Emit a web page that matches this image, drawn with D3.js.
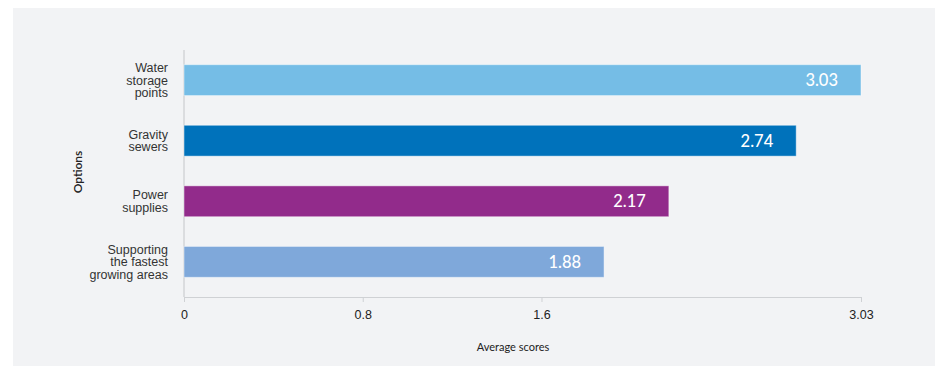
<!DOCTYPE html>
<html>
<head>
<meta charset="utf-8">
<script src="https://cdn.jsdelivr.net/npm/d3@7"></script>
<style>
  body { margin: 0; background: #fff; }
  svg { display: block; font-family: Lato, "Open Sans", sans-serif; }
</style>
</head>
<body>
<svg width="935" height="366"></svg>
<script>
// data
const categories = ['Water storage points', 'Gravity sewers', 'Power supplies', 'Supporting the fastest growing areas'];
const categoryLines = [['Water', 'storage', 'points'], ['Gravity', 'sewers'], ['Power', 'supplies'], ['Supporting', 'the fastest', 'growing areas']];
const scores = [3.03, 2.74, 2.17, 1.88];
const barColors = ['#75bde6', '#0072bb', '#922b8b', '#7fa8da'];
const xTicks = [0, 0.8, 1.6, 3.03];

const svg = d3.select('svg');

// grey panel behind everything
svg.append('rect')
  .attr('x', 13).attr('y', 8)
  .attr('width', 935 - 13).attr('height', 366 - 8)
  .attr('fill', '#f2f3f5');

const left = 184, right = 861, axisY = 297;

const x = d3.scaleLinear()
  .domain([0, 3.03])
  .range([left, right]);

const y = d3.scaleBand()
  .domain(categories)
  .range([35, 307])
  .padding(0.49);

// x axis
const gx = svg.append('g')
  .attr('transform', 'translate(0,' + axisY + ')')
  .call(d3.axisBottom(x).tickValues(xTicks).tickSize(5).tickPadding(8).tickFormat(d => String(d)));
gx.select('.domain').attr('stroke', '#cfd1d4');
gx.selectAll('.tick line').attr('stroke', '#cfd1d4');
gx.selectAll('.tick text')
  .attr('fill', '#222')
  .style('font-size', '12.5px');

// y axis line
svg.append('line')
  .attr('x1', left).attr('x2', left)
  .attr('y1', 50).attr('y2', axisY)
  .attr('stroke', '#c4c6c9');

// y axis labels
const gy = svg.append('g')
  .attr('transform', 'translate(' + left + ',0)')
  .call(d3.axisLeft(y).tickSize(0).tickPadding(16));
gy.select('.domain').remove();
gy.selectAll('.tick text')
  .attr('fill', '#333')
  .style('font-size', '12.5px')
  .text(null)
  .each(function (d, i) {
    const lines = categoryLines[i];
    const lh = 12.5;
    const t = d3.select(this);
    lines.forEach((ln, j) => {
      t.append('tspan')
        .attr('x', -16)
        .attr('y', (j - (lines.length - 1) / 2) * lh)
        .attr('dy', '0.35em')
        .text(ln);
    });
  });

// bars
svg.selectAll('.bar')
  .data(scores)
  .enter().append('rect')
  .attr('class', 'bar')
  .attr('x', x(0))
  .attr('y', (d, i) => y(categories[i]))
  .attr('width', d => x(d) - x(0))
  .attr('height', y.bandwidth())
  .attr('fill', (d, i) => barColors[i])
  .attr('stroke', 'rgba(255,255,255,0.45)')
  .attr('stroke-width', 1);

// value labels
svg.selectAll('.val')
  .data(scores)
  .enter().append('text')
  .attr('class', 'val')
  .attr('x', d => x(d) - 23)
  .attr('y', (d, i) => y(categories[i]) + y.bandwidth() / 2)
  .attr('dy', '0.36em')
  .attr('text-anchor', 'end')
  .attr('fill', '#fff')
  .style('font-size', '16.5px')
  .style('font-weight', 500)
  .text(d => d.toFixed(2));

// axis titles
svg.append('text')
  .attr('x', 513).attr('y', 351)
  .attr('text-anchor', 'middle')
  .attr('fill', '#222')
  .style('font-size', '11px')
  .text('Average scores');

svg.append('text')
  .attr('transform', 'translate(82,172) rotate(-90)')
  .attr('text-anchor', 'middle')
  .attr('fill', '#222')
  .style('font-size', '12px')
  .style('font-weight', 600)
  .text('Options');
</script>
</body>
</html>
